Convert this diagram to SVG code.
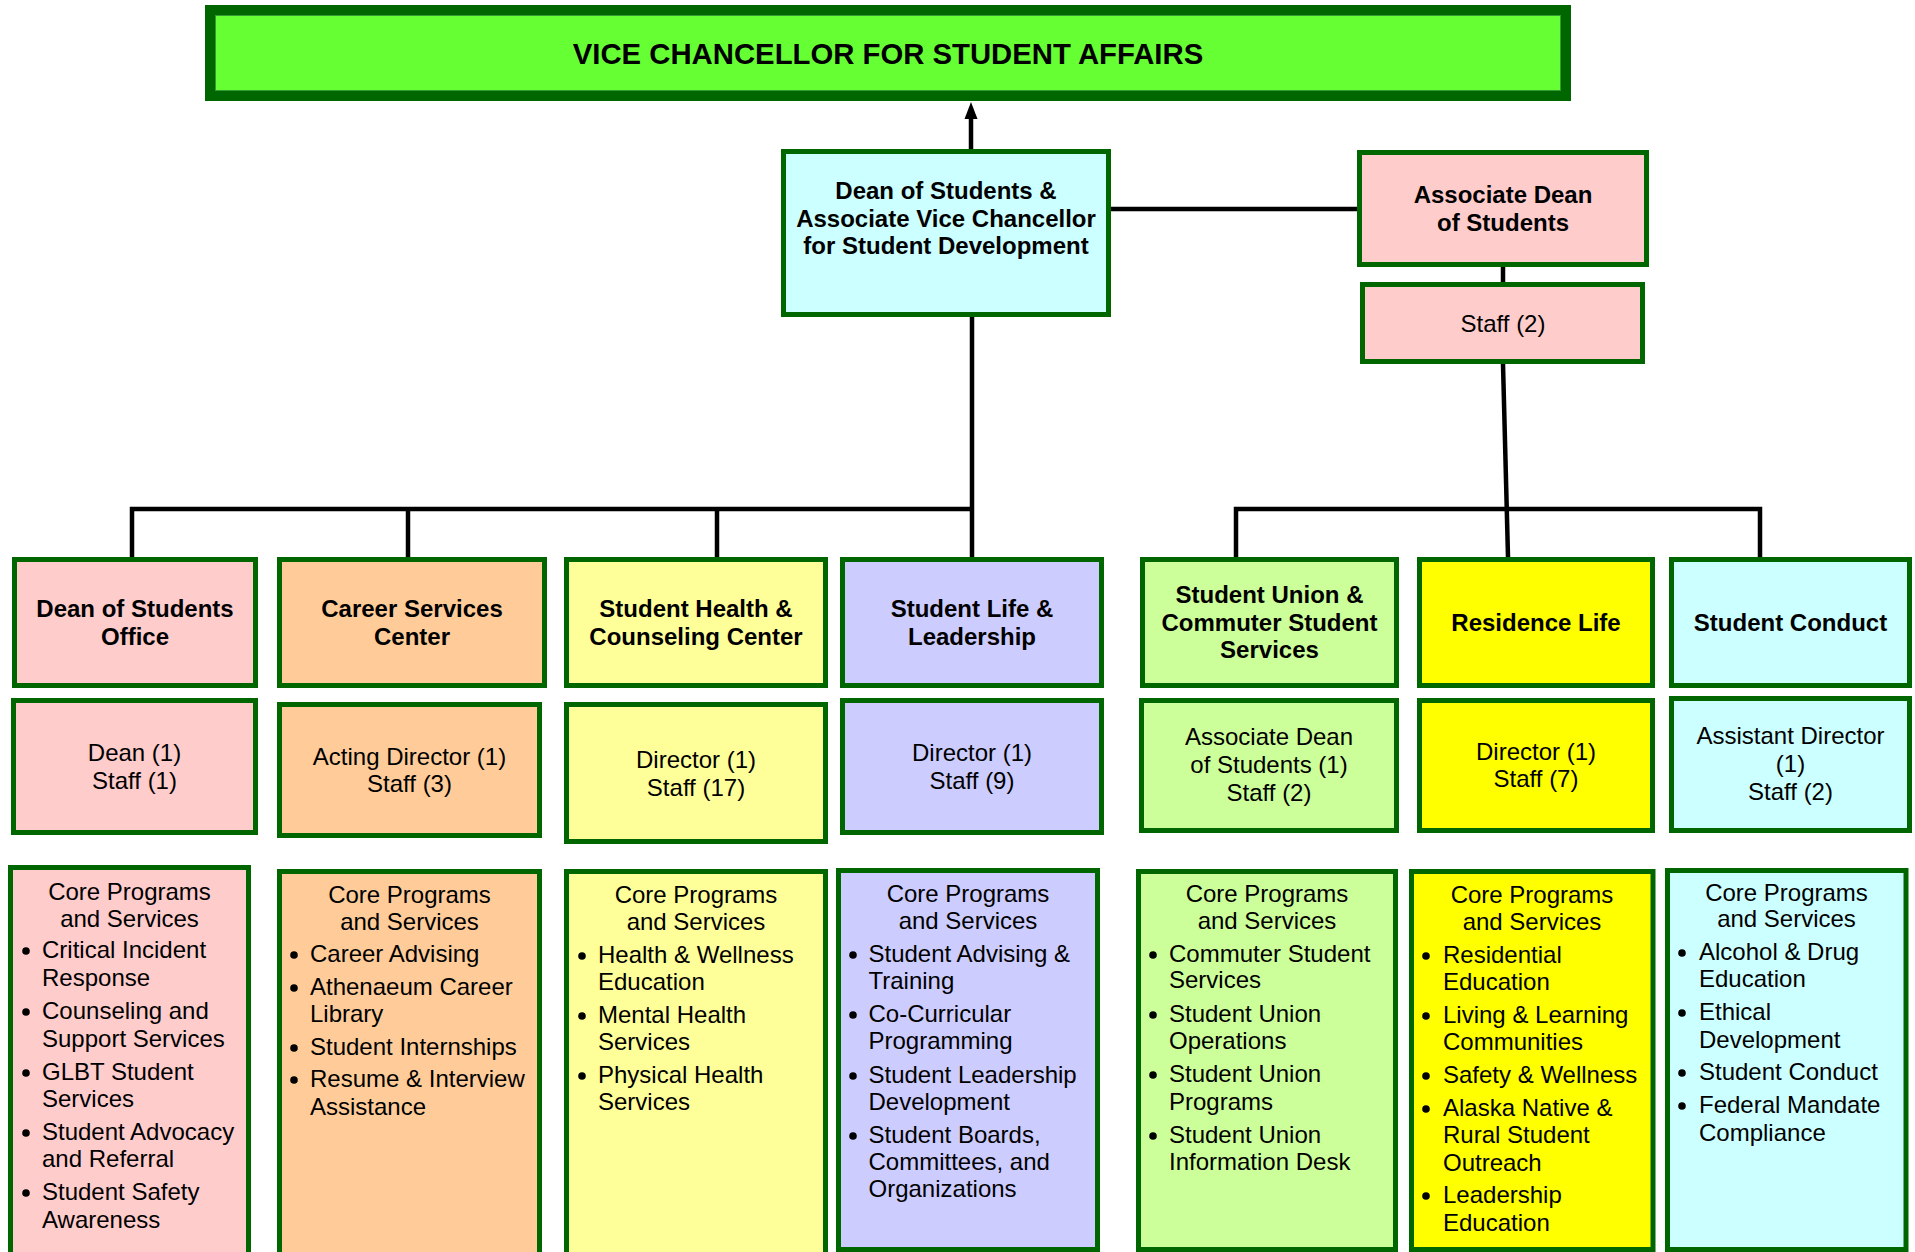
<svg xmlns="http://www.w3.org/2000/svg" width="1915" height="1252" viewBox="0 0 1915 1252">
<style>
.b{stroke:#006600;stroke-width:5}
.t{font-family:"Liberation Sans",Arial,sans-serif;font-size:24px;fill:#000}
.bd{font-weight:bold}
.c{text-anchor:middle}
.ln{stroke:#000;stroke-width:4.5;fill:none}
.pink{fill:#FFCCCC}.peach{fill:#FFCC99}.lyel{fill:#FFFF99}.lav{fill:#CCCCFF}.lgr{fill:#CCFF99}.yel{fill:#FFFF00}.cyan{fill:#CCFFFF}
.dot{fill:#000}
</style>
<defs>
<marker id="ah" markerUnits="userSpaceOnUse" markerWidth="17" markerHeight="14" refX="1" refY="7" orient="auto"><path d="M0,0.5 L17,7 L0,13.5 z" fill="#000"/></marker>
</defs>
<rect width="1915" height="1252" fill="#fff"/>
<g id="connectors">
<line class="ln" x1="971" y1="149" x2="971" y2="118" marker-end="url(#ah)"/>
<line class="ln" x1="1111" y1="209" x2="1357" y2="209"/>
<line class="ln" x1="1503" y1="267" x2="1503" y2="282"/>
<line class="ln" x1="972" y1="317" x2="972" y2="557"/>
<polyline class="ln" points="132,557 132,509 972,509"/>
<line class="ln" x1="408" y1="509" x2="408" y2="557"/>
<line class="ln" x1="717" y1="509" x2="717" y2="557"/>
<polyline class="ln" points="1236,557 1236,509 1760,509 1760,557"/>
<line class="ln" x1="1503" y1="364" x2="1508" y2="557"/>
</g>
<g id="vc">
<rect x="210" y="10" width="1356" height="86" fill="#66FF33" stroke="#006600" stroke-width="10"/>
<rect x="215.5" y="15.5" width="1345" height="75" fill="none" stroke="#339933" stroke-width="1"/>
<text class="t bd c" x="888" y="64" style="font-size:29.3px">VICE CHANCELLOR FOR STUDENT AFFAIRS</text>
</g>
<g id="dean">
<rect class="b cyan" x="783.5" y="151.5" width="325" height="163"/>
<text class="t bd c" x="946" y="199">Dean of Students &amp;</text>
<text class="t bd c" x="946" y="227">Associate Vice Chancellor</text>
<text class="t bd c" x="946" y="254">for Student Development</text>
</g>
<g id="assocdean">
<rect class="b pink" x="1359.5" y="152.5" width="287" height="112"/>
<text class="t bd c" x="1503" y="203">Associate Dean</text>
<text class="t bd c" x="1503" y="231">of Students</text>
</g>
<g id="assocdean-staff">
<rect class="b pink" x="1362.5" y="284.5" width="280" height="77"/>
<text class="t c" x="1503" y="332">Staff (2)</text>
</g>
<g id="dso">
<rect class="b pink" x="14.5" y="559.5" width="241" height="126"/>
<text class="t bd c" x="135" y="617">Dean of Students</text>
<text class="t bd c" x="135" y="645">Office</text>
</g>
<g id="career">
<rect class="b peach" x="279.5" y="559.5" width="265" height="126"/>
<text class="t bd c" x="412" y="617">Career Services</text>
<text class="t bd c" x="412" y="645">Center</text>
</g>
<g id="health">
<rect class="b lyel" x="566.5" y="559.5" width="259" height="126"/>
<text class="t bd c" x="696" y="617">Student Health &amp;</text>
<text class="t bd c" x="696" y="645">Counseling Center</text>
</g>
<g id="life">
<rect class="b lav" x="842.5" y="559.5" width="259" height="126"/>
<text class="t bd c" x="972" y="617">Student Life &amp;</text>
<text class="t bd c" x="972" y="645">Leadership</text>
</g>
<g id="union">
<rect class="b lgr" x="1142.5" y="559.5" width="254" height="126"/>
<text class="t bd c" x="1269.5" y="603">Student Union &amp;</text>
<text class="t bd c" x="1269.5" y="631">Commuter Student</text>
<text class="t bd c" x="1269.5" y="658">Services</text>
</g>
<g id="residence">
<rect class="b yel" x="1419.5" y="559.5" width="233" height="126"/>
<text class="t bd c" x="1536" y="631">Residence Life</text>
</g>
<g id="conduct">
<rect class="b cyan" x="1671.5" y="559.5" width="238" height="126"/>
<text class="t bd c" x="1790.5" y="631">Student Conduct</text>
</g>
<g id="dso-staff">
<rect class="b pink" x="13.5" y="700.5" width="242" height="132"/>
<text class="t c" x="134.5" y="761">Dean (1)</text>
<text class="t c" x="134.5" y="789">Staff (1)</text>
</g>
<g id="career-staff">
<rect class="b peach" x="279.5" y="704.5" width="260" height="131"/>
<text class="t c" x="409.5" y="765">Acting Director (1)</text>
<text class="t c" x="409.5" y="792">Staff (3)</text>
</g>
<g id="health-staff">
<rect class="b lyel" x="566.5" y="704.5" width="259" height="137"/>
<text class="t c" x="696" y="768">Director (1)</text>
<text class="t c" x="696" y="796">Staff (17)</text>
</g>
<g id="life-staff">
<rect class="b lav" x="842.5" y="700.5" width="259" height="132"/>
<text class="t c" x="972" y="761">Director (1)</text>
<text class="t c" x="972" y="789">Staff (9)</text>
</g>
<g id="union-staff">
<rect class="b lgr" x="1141.5" y="700.5" width="255" height="130"/>
<text class="t c" x="1269" y="745">Associate Dean</text>
<text class="t c" x="1269" y="773">of Students (1)</text>
<text class="t c" x="1269" y="801">Staff (2)</text>
</g>
<g id="residence-staff">
<rect class="b yel" x="1419.5" y="700.5" width="233" height="130"/>
<text class="t c" x="1536" y="760">Director (1)</text>
<text class="t c" x="1536" y="787">Staff (7)</text>
</g>
<g id="conduct-staff">
<rect class="b cyan" x="1671.5" y="698.5" width="238" height="132"/>
<text class="t c" x="1790.5" y="744">Assistant Director</text>
<text class="t c" x="1790.5" y="772">(1)</text>
<text class="t c" x="1790.5" y="800">Staff (2)</text>
</g>
<g id="dso-core">
<rect class="b pink" x="10.5" y="867.5" width="238" height="400"/>
<text class="t c" x="129.5" y="900">Core Programs</text>
<text class="t c" x="129.5" y="927">and Services</text>
<circle class="dot" cx="26" cy="951" r="3.8"/><text class="t" x="42" y="958">Critical Incident</text>
<text class="t" x="42" y="986">Response</text>
<circle class="dot" cx="26" cy="1012" r="3.8"/><text class="t" x="42" y="1019">Counseling and</text>
<text class="t" x="42" y="1047">Support Services</text>
<circle class="dot" cx="26" cy="1073" r="3.8"/><text class="t" x="42" y="1080">GLBT Student</text>
<text class="t" x="42" y="1107">Services</text>
<circle class="dot" cx="26" cy="1133" r="3.8"/><text class="t" x="42" y="1140">Student Advocacy</text>
<text class="t" x="42" y="1167">and Referral</text>
<circle class="dot" cx="26" cy="1193" r="3.8"/><text class="t" x="42" y="1200">Student Safety</text>
<text class="t" x="42" y="1228">Awareness</text>
</g>
<g id="career-core">
<rect class="b peach" x="279.5" y="871.5" width="260" height="400"/>
<text class="t c" x="409.5" y="903">Core Programs</text>
<text class="t c" x="409.5" y="930">and Services</text>
<circle class="dot" cx="294" cy="955" r="3.8"/><text class="t" x="310" y="962">Career Advising</text>
<circle class="dot" cx="294" cy="988" r="3.8"/><text class="t" x="310" y="995">Athenaeum Career</text>
<text class="t" x="310" y="1022">Library</text>
<circle class="dot" cx="294" cy="1048" r="3.8"/><text class="t" x="310" y="1055">Student Internships</text>
<circle class="dot" cx="294" cy="1080" r="3.8"/><text class="t" x="310" y="1087">Resume &amp; Interview</text>
<text class="t" x="310" y="1115">Assistance</text>
</g>
<g id="health-core">
<rect class="b lyel" x="566.5" y="871.5" width="259" height="400"/>
<text class="t c" x="696" y="903">Core Programs</text>
<text class="t c" x="696" y="930">and Services</text>
<circle class="dot" cx="582" cy="956" r="3.8"/><text class="t" x="598" y="963">Health &amp; Wellness</text>
<text class="t" x="598" y="990">Education</text>
<circle class="dot" cx="582" cy="1016" r="3.8"/><text class="t" x="598" y="1023">Mental Health</text>
<text class="t" x="598" y="1050">Services</text>
<circle class="dot" cx="582" cy="1076" r="3.8"/><text class="t" x="598" y="1083">Physical Health</text>
<text class="t" x="598" y="1110">Services</text>
</g>
<g id="life-core">
<rect class="b lav" x="838.5" y="870.5" width="259" height="379"/>
<text class="t c" x="968" y="902">Core Programs</text>
<text class="t c" x="968" y="929">and Services</text>
<circle class="dot" cx="853" cy="955" r="3.8"/><text class="t" x="868.5" y="962">Student Advising &amp;</text>
<text class="t" x="868.5" y="989">Training</text>
<circle class="dot" cx="853" cy="1015" r="3.8"/><text class="t" x="868.5" y="1022">Co-Curricular</text>
<text class="t" x="868.5" y="1049">Programming</text>
<circle class="dot" cx="853" cy="1076" r="3.8"/><text class="t" x="868.5" y="1083">Student Leadership</text>
<text class="t" x="868.5" y="1110">Development</text>
<circle class="dot" cx="853" cy="1136" r="3.8"/><text class="t" x="868.5" y="1143">Student Boards,</text>
<text class="t" x="868.5" y="1170">Committees, and</text>
<text class="t" x="868.5" y="1197">Organizations</text>
</g>
<g id="union-core">
<rect class="b lgr" x="1138.5" y="871.5" width="257" height="378"/>
<text class="t c" x="1267" y="902">Core Programs</text>
<text class="t c" x="1267" y="929">and Services</text>
<circle class="dot" cx="1153" cy="955" r="3.8"/><text class="t" x="1169" y="962">Commuter Student</text>
<text class="t" x="1169" y="988">Services</text>
<circle class="dot" cx="1153" cy="1015" r="3.8"/><text class="t" x="1169" y="1022">Student Union</text>
<text class="t" x="1169" y="1049">Operations</text>
<circle class="dot" cx="1153" cy="1075" r="3.8"/><text class="t" x="1169" y="1082">Student Union</text>
<text class="t" x="1169" y="1110">Programs</text>
<circle class="dot" cx="1153" cy="1136" r="3.8"/><text class="t" x="1169" y="1143">Student Union</text>
<text class="t" x="1169" y="1170">Information Desk</text>
</g>
<g id="residence-core">
<rect class="b yel" x="1411.5" y="871.5" width="241.5" height="378"/>
<text class="t c" x="1532" y="903">Core Programs</text>
<text class="t c" x="1532" y="930">and Services</text>
<circle class="dot" cx="1426" cy="956" r="3.8"/><text class="t" x="1443" y="963">Residential</text>
<text class="t" x="1443" y="990">Education</text>
<circle class="dot" cx="1426" cy="1016" r="3.8"/><text class="t" x="1443" y="1023">Living &amp; Learning</text>
<text class="t" x="1443" y="1050">Communities</text>
<circle class="dot" cx="1426" cy="1076" r="3.8"/><text class="t" x="1443" y="1083">Safety &amp; Wellness</text>
<circle class="dot" cx="1426" cy="1109" r="3.8"/><text class="t" x="1443" y="1116">Alaska Native &amp;</text>
<text class="t" x="1443" y="1143">Rural Student</text>
<text class="t" x="1443" y="1171">Outreach</text>
<circle class="dot" cx="1426" cy="1196" r="3.8"/><text class="t" x="1443" y="1203">Leadership</text>
<text class="t" x="1443" y="1231">Education</text>
</g>
<g id="conduct-core">
<rect class="b cyan" x="1667.5" y="870.5" width="238.5" height="379"/>
<text class="t c" x="1786.5" y="901">Core Programs</text>
<text class="t c" x="1786.5" y="927">and Services</text>
<circle class="dot" cx="1682" cy="953" r="3.8"/><text class="t" x="1699" y="960">Alcohol &amp; Drug</text>
<text class="t" x="1699" y="987">Education</text>
<circle class="dot" cx="1682" cy="1013" r="3.8"/><text class="t" x="1699" y="1020">Ethical</text>
<text class="t" x="1699" y="1048">Development</text>
<circle class="dot" cx="1682" cy="1073" r="3.8"/><text class="t" x="1699" y="1080">Student Conduct</text>
<circle class="dot" cx="1682" cy="1106" r="3.8"/><text class="t" x="1699" y="1113">Federal Mandate</text>
<text class="t" x="1699" y="1141">Compliance</text>
</g>
</svg>
